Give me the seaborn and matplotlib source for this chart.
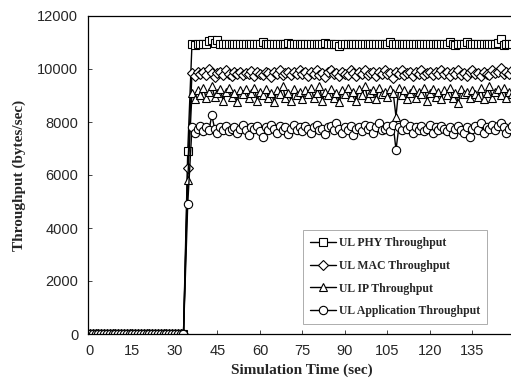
import pandas as pd
import seaborn as sns
import matplotlib.pyplot as plt

# time axis (sec): zeros up to 33, jump at 34.5, then steady 36..149
t_zero = list(range(0, 34))
t_jump = [34.5]
t_run = list(range(36, 150))

zeros = [0, 0, 0, 0, 0, 0, 0, 0, 0, 0, 0, 0, 0, 0, 0, 0, 0,
         0, 0, 0, 0, 0, 0, 0, 0, 0, 0, 0, 0, 0, 0, 0, 0, 0]

phy_jump = [6900]
mac_jump = [6250]
ip_jump = [5800]
app_jump = [4900]

phy_run = [10950, 10920, 10960, 10940, 10950, 10930, 11050, 11100, 10980,
           11080, 10960, 10940, 10950, 10930, 10960, 10950, 10940, 10960, 10950,
           10930, 10950, 10960, 10940, 10950, 10960, 11000, 10940, 10950, 10930,
           10960, 10950, 10940, 10950, 10960, 10980, 10950, 10940, 10960, 10950,
           10940, 10950, 10930, 10960, 10950, 10940, 10960, 10950, 10980, 10940,
           10950, 10960, 10940, 10850, 10950, 10960, 10940, 10950, 10960, 10950,
           10940, 10960, 10950, 10930, 10950, 10960, 10940, 10950, 10960, 10940,
           10950, 11000, 10960, 10940, 10950, 10960, 10940, 10950, 10960, 10950,
           10940, 10960, 10950, 10930, 10950, 10960, 10940, 10950, 10960, 10950,
           10940, 10960, 11000, 10950, 10900, 10960, 10940, 10950, 11000, 10950,
           10940, 10960, 10950, 10930, 10950, 10960, 10940, 10950, 10960, 10980,
           11150, 10900, 10950, 10960, 10940]

mac_run = [9850, 9750, 9880, 9800, 9900, 9780, 10000, 9850, 9700,
           9850, 9900, 9780, 9950, 9820, 9750, 9880, 9800, 9900, 9760,
           9850, 9800, 9920, 9750, 9880, 9820, 9780, 9900, 9850, 9700,
           9880, 9820, 9950, 9780, 9850, 9900, 9760, 9880, 9820, 9950,
           9800, 9870, 9750, 9900, 9830, 9950, 9780, 9850, 9700, 9880,
           9950, 9800, 9860, 9750, 9900, 9820, 9780, 9950, 9850, 9720,
           9880, 9820, 9950, 9780, 9860, 9900, 9750, 9880, 9820, 9960,
           9800, 9850, 9650, 9900, 9820, 9950, 9780, 9860, 9900, 9750,
           9880, 9820, 9950, 9780, 9850, 9900, 9760, 9880, 9820, 9950,
           9800, 9870, 9750, 9900, 9830, 9950, 9780, 9850, 9720, 9880,
           9950, 9800, 9860, 9750, 9900, 9820, 9780, 9950, 9850, 9900,
           10050, 9800, 9880, 9820, 9950]

ip_run = [9100, 8850, 9200, 9000, 9300, 8900, 9150, 9350, 8950,
          9100, 9250, 8800, 9150, 9300, 8950, 9100, 8750, 9200, 9050,
          9250, 8900, 9100, 9300, 8800, 9150, 9000, 9250, 8900, 9100,
          8750, 9200, 9050, 9350, 8900, 9100, 8800, 9250, 9000, 9150,
          8850, 9200, 9050, 9300, 8900, 9100, 9350, 8800, 9150, 9000,
          9250, 8900, 9100, 8750, 9200, 9050, 9300, 8950, 9150, 8800,
          9250, 9000, 9350, 8900, 9100, 9200, 8850, 9300, 9050, 9150,
          8950, 9250, 9100, 8200, 9300, 9000, 9200, 8850, 9100, 9250,
          8900, 9150, 9050, 9300, 8800, 9100, 9250, 8950, 9150, 8850,
          9200, 9000, 9300, 8900, 9100, 8700, 9250, 9050, 9150, 8900,
          9200, 9050, 8950, 9300, 8850, 9100, 9350, 8900, 9150, 9250,
          9000, 9300, 8900, 9150, 9050]

app_run = [7800, 7600, 7750, 7850, 7650, 7800, 7700, 8250, 7750,
           7600, 7800, 7700, 7850, 7650, 7750, 7800, 7600, 7750, 7900,
           7700, 7500, 7800, 7750, 7850, 7650, 7450, 7800, 7700, 7900,
           7750, 7600, 7850, 7700, 7800, 7550, 7750, 7900, 7700, 7800,
           7650, 7850, 7750, 7600, 7800, 7900, 7700, 7750, 7550, 7800,
           7850, 7700, 7950, 7750, 7600, 7800, 7700, 7850, 7500, 7750,
           7800, 7650, 7900, 7750, 7850, 7600, 7800, 7950, 7700, 7750,
           7850, 7650, 7900, 6950, 7800, 7700, 7950, 7750, 7850, 7600,
           7800, 7700, 7850, 7650, 7750, 7900, 7600, 7800, 7700, 7850,
           7750, 7650, 7800, 7550, 7750, 7850, 7700, 7600, 7800, 7450,
           7750, 7850, 7700, 7950, 7600, 7800, 7750, 7900, 7700, 7850,
           7950, 7800, 7600, 7750, 7850]

series = ["UL PHY Throughput", "UL MAC Throughput",
          "UL IP Throughput", "UL Application Throughput"]
xticks = [0, 15, 30, 45, 60, 75, 90, 105, 120, 135]
yticks = [0, 2000, 4000, 6000, 8000, 10000, 12000]

times = t_zero + t_jump + t_run
frames = []
for name, jump, run in zip(series, [phy_jump, mac_jump, ip_jump, app_jump],
                           [phy_run, mac_run, ip_run, app_run]):
    frames.append(pd.DataFrame({"time": times, "value": zeros + jump + run,
                                "series": name}))
df = pd.concat(frames, ignore_index=True)

sns.set_style("ticks")
fig = plt.figure(figsize=(5.11, 3.86), dpi=100)
ax = fig.add_axes([88 / 511, 52 / 386, 427 / 511, 318 / 386])

sns.lineplot(data=df, x="time", y="value", hue="series", style="series",
             hue_order=series, style_order=series,
             palette=["black"] * 4, markers=["s", "D", "^", "o"], dashes=False,
             linewidth=1.0, markersize=6, markerfacecolor="white",
             markeredgecolor="black", markeredgewidth=0.8, ax=ax)

# the "D" diamond draws bigger than the others, shrink it a bit
for line in ax.lines:
    if line.get_marker() == "D":
        line.set_markersize(4.8)

ax.set_xlim(-0.7, 150)
ax.set_ylim(0, 12000)
ax.set_xticks(xticks)
ax.set_yticks(yticks)
ax.tick_params(direction="in", length=3, width=0.6, labelsize=10.5, pad=7)
for lab in ax.get_xticklabels() + ax.get_yticklabels():
    lab.set_fontfamily("Liberation Sans")
for side in ["left", "bottom", "top"]:
    ax.spines[side].set_linewidth(0.9)
    ax.spines[side].set_color("black")
ax.spines["right"].set_visible(False)

ax.set_xlabel("Simulation Time (sec)", family="Liberation Serif",
              fontweight="bold", fontsize=11, labelpad=4)
ax.set_ylabel("Throughput (bytes/sec)", family="Liberation Serif",
              fontweight="bold", fontsize=11, labelpad=8)

sns.move_legend(ax, "upper left", bbox_to_anchor=(0.49, 0.345), title=None,
                frameon=True, fancybox=False, handlelength=2.2,
                prop={"family": "Liberation Serif", "weight": "bold", "size": 8.5},
                labelspacing=0.9, borderpad=0.6, handletextpad=0.2)
leg = ax.get_legend()
leg.get_frame().set_edgecolor("#888888")
leg.get_frame().set_linewidth(0.6)
for h in leg.legend_handles:
    if h.get_marker() == "D":
        h.set_markersize(4.8)

fig.savefig("out.png", dpi=100)
